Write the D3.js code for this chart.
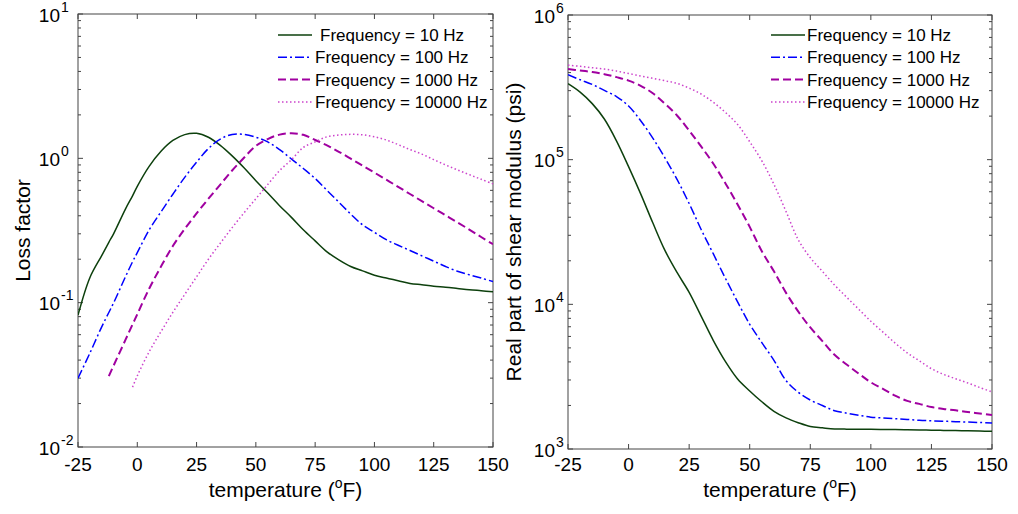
<!DOCTYPE html>
<html>
<head>
<meta charset="utf-8">
<script src="https://cdn.jsdelivr.net/npm/d3@7"></script>
<style>
  html, body { margin: 0; padding: 0; background: #fff; }
  text { font-family: "Liberation Sans", Arial, sans-serif; fill: #000; }
</style>
</head>
<body>
<svg id="chart" width="1018" height="514"></svg>
<script>
// ---------------- DATA ----------------
const seriesNames = ["Frequency = 10 Hz", "Frequency = 100 Hz", "Frequency = 1000 Hz", "Frequency = 10000 Hz"];
const xTickValues = [-25, 0, 25, 50, 75, 100, 125, 150];
const lossDecades = [-2, -1, 0, 1];
const modDecades = [3, 4, 5, 6];

const lossTemps = [-25, -20, -15, -12, -10, -5, -2, 0, 5, 10, 15, 20, 25, 30, 35, 40, 45, 50, 55, 60, 65, 70, 75, 80, 85, 90, 95, 100, 105, 110, 115, 120, 125, 130, 135, 140, 145, 150];
const loss10 = [0.082, 0.149, 0.212, 0.262, 0.30, 0.445, 0.55, 0.64, 0.88, 1.12, 1.33, 1.46, 1.49, 1.40, 1.23, 1.04, 0.86, 0.70, 0.575, 0.47, 0.39, 0.32, 0.268, 0.225, 0.198, 0.178, 0.166, 0.155, 0.148, 0.142, 0.136, 0.133, 0.130, 0.128, 0.1255, 0.123, 0.121, 0.119];
const loss100 = [0.030, 0.0447, 0.068, 0.0855, 0.0995, 0.151, 0.192, 0.222, 0.319, 0.426, 0.564, 0.738, 0.94, 1.17, 1.36, 1.465, 1.465, 1.40, 1.30, 1.15, 0.99, 0.85, 0.725, 0.60, 0.497, 0.411, 0.346, 0.307, 0.273, 0.25, 0.230, 0.211, 0.194, 0.178, 0.165, 0.156, 0.148, 0.140];
const loss1000 = [null, null, null, 0.031, 0.0366, 0.0552, 0.0706, 0.0832, 0.125, 0.178, 0.247, 0.324, 0.415, 0.525, 0.658, 0.824, 1.01, 1.22, 1.36, 1.46, 1.49, 1.455, 1.34, 1.23, 1.11, 0.995, 0.89, 0.796, 0.711, 0.635, 0.566, 0.505, 0.451, 0.403, 0.360, 0.321, 0.285, 0.254];
const loss10000 = [null, null, null, null, null, null, 0.026, 0.0311, 0.0457, 0.063, 0.0857, 0.114, 0.151, 0.200, 0.258, 0.331, 0.419, 0.525, 0.658, 0.822, 0.977, 1.19, 1.30, 1.41, 1.45, 1.466, 1.455, 1.41, 1.34, 1.245, 1.15, 1.07, 0.98, 0.90, 0.832, 0.771, 0.716, 0.665];

const modTemps = [-25, -20, -15, -10, -5, 0, 5, 10, 15, 20, 25, 30, 35, 40, 45, 50, 55, 60, 65, 70, 75, 80, 85, 90, 95, 100, 105, 110, 115, 120, 125, 130, 135, 140, 145, 150];
const mod10 = [335000, 293000, 244000, 191000, 135000, 89500, 58000, 36600, 23600, 16600, 12100, 8260, 5620, 4020, 3050, 2520, 2120, 1820, 1640, 1520, 1430, 1400, 1375, 1372, 1370, 1368, 1365, 1362, 1358, 1354, 1350, 1345, 1340, 1335, 1330, 1325];
const mod100 = [386000, 357000, 331000, 301000, 273000, 235000, 186000, 141000, 103000, 73100, 49800, 32800, 22300, 15100, 10400, 7280, 5440, 4100, 2970, 2470, 2180, 2000, 1840, 1770, 1710, 1660, 1640, 1620, 1600, 1578, 1567, 1556, 1545, 1535, 1524, 1514];
const mod1000 = [424000, 413000, 404000, 390000, 372000, 352000, 324000, 288000, 244000, 202000, 159000, 123000, 93700, 68500, 49000, 34300, 23300, 16900, 12000, 8930, 6920, 5570, 4480, 3840, 3320, 2890, 2600, 2340, 2150, 2050, 1950, 1890, 1850, 1800, 1760, 1720];
const mod10000 = [450000, 442000, 432000, 423000, 410000, 394000, 379000, 365000, 351000, 337000, 312000, 284000, 249000, 212000, 175000, 133000, 98200, 67500, 43800, 28000, 21000, 16900, 13600, 11200, 9250, 7640, 6430, 5400, 4620, 4070, 3590, 3280, 3060, 2860, 2660, 2480];

// ---------------- STYLE ----------------
const styles = [
  { color: "#0d400d", width: 1.5, dash: null },
  { color: "#0000ff", width: 1.5, dash: "9,3,2,3" },
  { color: "#a000a0", width: 2, dash: "8,4" },
  { color: "#cc44cc", width: 1.5, dash: "1.5,2.5" }
];
const axisColor = "#444";

const svg = d3.select("#chart");
svg.append("rect").attr("width", 1018).attr("height", 514).attr("fill", "#fff");

function drawPanel(cfg) {
  const { x0, x1, y0, y1, decades, temps, series, ylabel, ylabelX, expX, legendLineX, legendTextX, firstPad } = cfg;
  const x = d3.scaleLinear().domain([-25, 150]).range([x0, x1]);
  const y = d3.scaleLog().domain([Math.pow(10, decades[0]), Math.pow(10, decades[decades.length - 1])]).range([y1, y0]);
  const g = svg.append("g");

  const clipId = "clip" + x0;
  svg.append("clipPath").attr("id", clipId).append("rect")
    .attr("x", x0).attr("y", y0).attr("width", x1 - x0).attr("height", y1 - y0);

  xTickValues.forEach(t => {
    const px = x(t);
    g.append("line").attr("x1", px).attr("x2", px).attr("y1", y1).attr("y2", y1 - 5).attr("stroke", axisColor);
    g.append("line").attr("x1", px).attr("x2", px).attr("y1", y0).attr("y2", y0 + 5).attr("stroke", axisColor);
    g.append("text").attr("x", px).attr("y", 471).attr("text-anchor", "middle")
      .attr("font-size", 19).text(t);
  });

  for (let i = 0; i < decades.length; i++) {
    const d = decades[i];
    const v = Math.pow(10, d);
    const py = y(v);
    g.append("line").attr("x1", x0).attr("x2", x0 + 5).attr("y1", py).attr("y2", py).attr("stroke", axisColor);
    g.append("line").attr("x1", x1).attr("x2", x1 - 5).attr("y1", py).attr("y2", py).attr("stroke", axisColor);
    g.append("text").attr("x", expX).attr("y", py + 7.5).attr("text-anchor", "end")
      .attr("font-size", 19).text("10");
    g.append("text").attr("x", expX + 1).attr("y", py - 2.5).attr("text-anchor", "start")
      .attr("font-size", 14).text(d);
    if (i < decades.length - 1) {
      for (let m = 2; m <= 9; m++) {
        const pm = y(m * v);
        g.append("line").attr("x1", x0).attr("x2", x0 + 3).attr("y1", pm).attr("y2", pm).attr("stroke", axisColor);
        g.append("line").attr("x1", x1).attr("x2", x1 - 3).attr("y1", pm).attr("y2", pm).attr("stroke", axisColor);
      }
    }
  }

  g.append("rect").attr("x", x0).attr("y", y0).attr("width", x1 - x0).attr("height", y1 - y0)
    .attr("fill", "none").attr("stroke", axisColor).attr("stroke-width", 1);

  const line = d3.line()
    .defined(d => d.v != null)
    .x(d => x(d.t)).y(d => y(d.v))
    .curve(d3.curveCatmullRom.alpha(0.5));
  series.forEach((s, k) => {
    const data = temps.map((t, i) => ({ t: t, v: s[i] }));
    g.append("path").attr("d", line(data))
      .attr("clip-path", "url(#" + clipId + ")")
      .attr("fill", "none").attr("stroke", styles[k].color)
      .attr("stroke-width", styles[k].width)
      .attr("stroke-dasharray", styles[k].dash);
  });

  const rowY = [35, 57.3, 79.6, 101.9];
  seriesNames.forEach((name, k) => {
    g.append("line").attr("x1", legendLineX[0]).attr("x2", legendLineX[1])
      .attr("y1", rowY[k]).attr("y2", rowY[k])
      .attr("stroke", styles[k].color).attr("stroke-width", styles[k].width)
      .attr("stroke-dasharray", styles[k].dash);
    g.append("text").attr("x", legendTextX + (k === 0 ? firstPad : 0)).attr("y", rowY[k] + 6)
      .attr("font-size", 17).text(name);
  });

  const xl = g.append("text").attr("x", (x0 + x1) / 2).attr("y", 497)
    .attr("text-anchor", "middle").attr("font-size", 21);
  xl.append("tspan").text("temperature (");
  xl.append("tspan").attr("font-size", 14).attr("dy", -9).text("o");
  xl.append("tspan").attr("dy", 9).text("F)");

  g.append("text").attr("transform", `translate(${ylabelX},${(y0 + y1) / 2}) rotate(-90)`)
    .attr("text-anchor", "middle").attr("font-size", 21).text(ylabel);
}

drawPanel({
  x0: 78, x1: 493, y0: 14, y1: 447,
  decades: lossDecades, temps: lossTemps,
  series: [loss10, loss100, loss1000, loss10000],
  ylabel: "Loss factor", ylabelX: 30, expX: 60,
  legendLineX: [278, 312], legendTextX: 315, firstPad: 5
});

drawPanel({
  x0: 568, x1: 992, y0: 15, y1: 449,
  decades: modDecades, temps: modTemps,
  series: [mod10, mod100, mod1000, mod10000],
  ylabel: "Real part of shear modulus (psi)", ylabelX: 521, expX: 555,
  legendLineX: [771, 805], legendTextX: 807, firstPad: 0
});
</script>
</body>
</html>
